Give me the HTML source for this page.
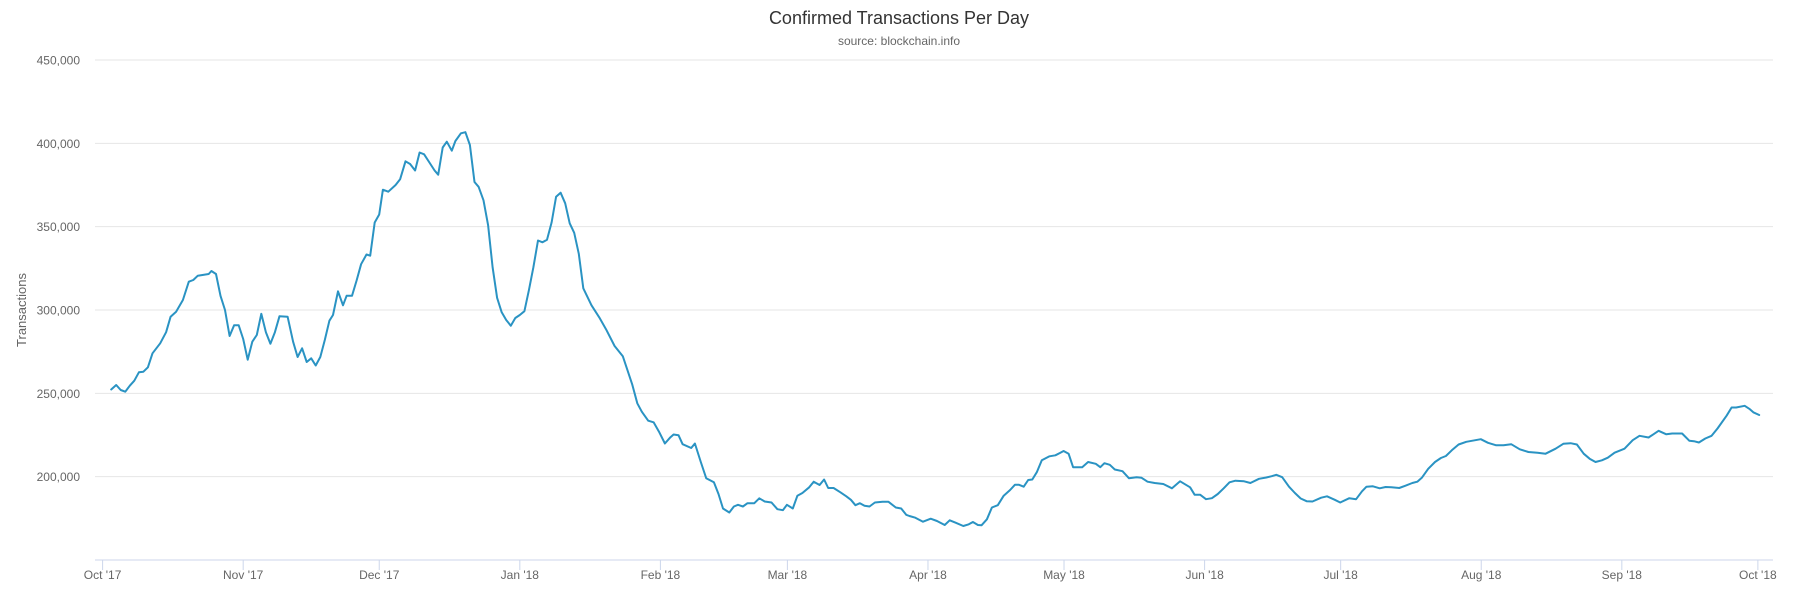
<!DOCTYPE html>
<html><head><meta charset="utf-8">
<style>
html,body{margin:0;padding:0;background:#fff;}
svg{display:block;font-family:"Liberation Sans",sans-serif;}
</style></head>
<body>
<svg id="chart" width="1798" height="597" viewBox="0 0 1798 597" xmlns="http://www.w3.org/2000/svg">
<text x="899" y="24" text-anchor="middle" font-size="18" fill="#333">Confirmed Transactions Per Day</text>
<text x="899" y="45" text-anchor="middle" font-size="12" fill="#666">source: blockchain.info</text>
<text transform="translate(26,310) rotate(-90)" text-anchor="middle" font-size="13" fill="#666">Transactions</text>
<g id="grid"></g>
<g id="yticks"></g>
<g id="xaxis"></g>
<g id="series"></g>
</svg>
<script>
// Day offsets from Oct 1 2017
const dayIndex = [1.9,3,4,5,6,7,8,9,10,11,12.7,14,15,16.2,17.7,19,20,21,23.4,24,25,26,27,28,29,30,31,32,33,34,35,36,37,38,39,40.8,42,43,44,45,46,47,48,49,50,50.8,51.9,53,53.8,55,56,57,58.2,59,60,61,61.8,63,64.6,65.6,66.8,67.8,68.9,69.9,70.9,72,73.2,74,75,75.9,77,77.8,79,80,81,82,82.9,84,85,86,87,88,89,90,91,92,93,94,95,96,97,98,99,100,101,102,103,104,105,106,107.8,109.5,111,112.9,114.7,115.8,116.8,117.9,118.9,120.3,121.5,122.7,124,125.1,125.9,127,127.9,129.8,130.6,131.9,133.1,134.8,135.8,136.8,138.2,139.2,140.1,141.2,142.2,143.7,144.8,146,147.5,148.8,150,150.9,152.2,153.2,154.3,155.8,156.8,158.1,159.1,160,161.2,162.7,164,165,166,167,168,169.1,170.3,172,173.3,174.9,176.1,177.2,177.9,179.2,180.9,182.6,184,185.7,186.8,188.1,189.8,191,191.9,193,193.8,195,196.1,197.4,198.7,200.1,201.2,202,203.1,204.1,205,206,207.1,208.8,210.1,211.1,211.9,213,214,216,217.3,219,220,220.9,222.1,223.2,224.9,226.3,228,229.1,230.4,232,233.9,235.8,237.6,239.8,240.8,242,243.3,244.6,245.9,247.2,248.5,249.8,251.7,253.1,255,256.6,257.8,258.8,260.1,261.6,262.9,264.2,265.5,266.8,268.7,270,271.7,272.9,274.9,276.4,277.7,278.7,280.1,281.6,282.9,284.2,285.9,287.3,288.8,289.9,290.9,292.3,293.8,295.1,296.2,297.5,299,300.7,302.7,303.9,305.5,307.3,308.9,310.6,312.5,314.4,316.4,318.2,320.4,322.1,323.7,325.1,326.6,327.9,329.2,330.6,331.9,333.4,335.6,337.4,338.9,340.9,343.1,344.8,346.1,348.3,349.9,350.9,352,353.4,354.8,356.1,358.1,359.2,360.2,362.1,363.1,364,365.3];
// Transactions per day, thousands
const txValues = [252.3,255,252,251,254.6,257.6,262.6,263,265.6,274,280,286.7,296,299,306,317,318,320.6,321.6,323.4,321.6,308.5,300,284.4,290.8,290.8,282.6,270.2,281,285,297.7,286.7,279.8,286.7,296.3,296,281,271.8,277,268.8,271,266.7,271.8,282,293.6,297,311.2,302.8,308.5,308.5,317.7,327.5,333.3,332.6,352.5,357.3,372.2,371,375,378.4,389.2,387.6,383.7,394.5,393.4,388.8,383.7,381.2,397.5,401,395.6,401.4,406,406.7,399,376.8,373.9,365.8,350.9,325.7,307.3,298.6,294,290.6,295.2,297,299.3,311.9,325.7,341.7,340.6,342.2,352.5,368,370.4,364,352,346.3,333.7,313,302.8,295.6,288.5,278.4,272.3,263.3,255.2,244,239,233.6,232.6,227,219.9,223.3,225.3,224.9,219.5,217.2,219.9,208.8,199.1,196.6,189.6,180.9,178.5,182.1,183.1,182.1,184.1,184.1,187,185.1,184.5,180.5,179.9,183.1,180.9,188.6,190.2,193.6,197,195,198.3,193.2,193.2,190.6,188.2,186.1,182.9,184.1,182.5,182.1,184.5,184.9,184.9,181.5,180.9,177.1,176.4,175.4,173,174.8,173.4,171,173.8,172.4,170.4,171.4,172.8,171,170.8,174.4,181.5,182.9,188.6,192,195.2,195.2,194,198,198.3,202.7,209.8,212.2,212.8,214.2,215.4,213.8,205.7,205.7,208.8,207.7,205.7,208.1,207.1,204.3,203.3,199.1,199.7,199.3,197,196.2,195.6,193,197.2,193.6,189.2,189.2,186.5,187.1,189.6,193,196.6,197.6,197.2,196.2,198.7,199.5,200.3,201.1,199.7,194,190.2,186.9,185.3,185.1,187.4,188.2,186.1,184.5,187.1,186.5,191.2,194,194.2,193,193.8,193.6,193.2,194.6,196.2,197,199.3,204.7,208.8,211.2,212.4,215.8,219.3,220.9,221.9,222.5,220.3,218.8,218.8,219.5,216.4,214.8,214.4,213.8,216.8,219.7,220.1,219.3,213.8,210.8,208.8,209.8,211.4,214.4,216.8,221.9,224.5,223.5,227.5,225.4,225.9,225.9,221.5,221.3,220.5,222.9,224.5,228.9,236.6,241.5,241.5,242.5,240.7,238.6,237,238];
const yTickValues = [200000,250000,300000,350000,400000,450000];
const monthLabels = ["Oct '17","Nov '17","Dec '17","Jan '18","Feb '18","Mar '18","Apr '18","May '18","Jun '18","Jul '18","Aug '18","Sep '18","Oct '18"];
const monthDays = [0,31,61,92,123,151,182,212,243,273,304,335,365];

const NS="http://www.w3.org/2000/svg";
const X0=102.6, PX_PER_DAY=4.535, PLOT_L=95, PLOT_R=1773, AXIS_Y=560;
function xScale(d){return X0+d*PX_PER_DAY;}
function yScale(v){return 560-(v-150000)*(500/300000);}
function mk(tag,attrs,parent){const e=document.createElementNS(NS,tag);for(const k in attrs)e.setAttribute(k,attrs[k]);parent.appendChild(e);return e;}

const grid=document.getElementById('grid'), yt=document.getElementById('yticks'), xa=document.getElementById('xaxis'), ser=document.getElementById('series');
yTickValues.forEach(v=>{
  const y=yScale(v);
  const l=mk('line',{x1:PLOT_L,x2:PLOT_R,y1:y,y2:y,stroke:'#e6e6e6','stroke-width':1},grid);
  
  
  const t=mk('text',{x:80,y:y+4.5,'text-anchor':'end','font-size':12,fill:'#666'},yt);
  
  
  t.textContent=v.toLocaleString('en-US');
});
const ax=mk('line',{x1:PLOT_L,x2:PLOT_R,y1:AXIS_Y,y2:AXIS_Y,stroke:'#ccd6eb','stroke-width':1},xa);


monthDays.forEach((d,i)=>{
  const x=xScale(d);
  const tk=mk('line',{x1:x,x2:x,y1:AXIS_Y,y2:AXIS_Y+10,stroke:'#ccd6eb','stroke-width':1},xa);
  
  
  const t=mk('text',{x:x,y:AXIS_Y+19,'text-anchor':'middle','font-size':12,fill:'#666'},xa);
  
  
  t.textContent=monthLabels[i];
});
let dstr='';
dayIndex.forEach((d,i)=>{dstr+=(i?'L':'M')+xScale(d).toFixed(1)+','+yScale(txValues[i]*1000).toFixed(1);});
const p=mk('path',{d:dstr,fill:'none',stroke:'#2a93c3','stroke-width':2,'stroke-linejoin':'round','stroke-linecap':'round'},ser);


</script>
</body></html>
